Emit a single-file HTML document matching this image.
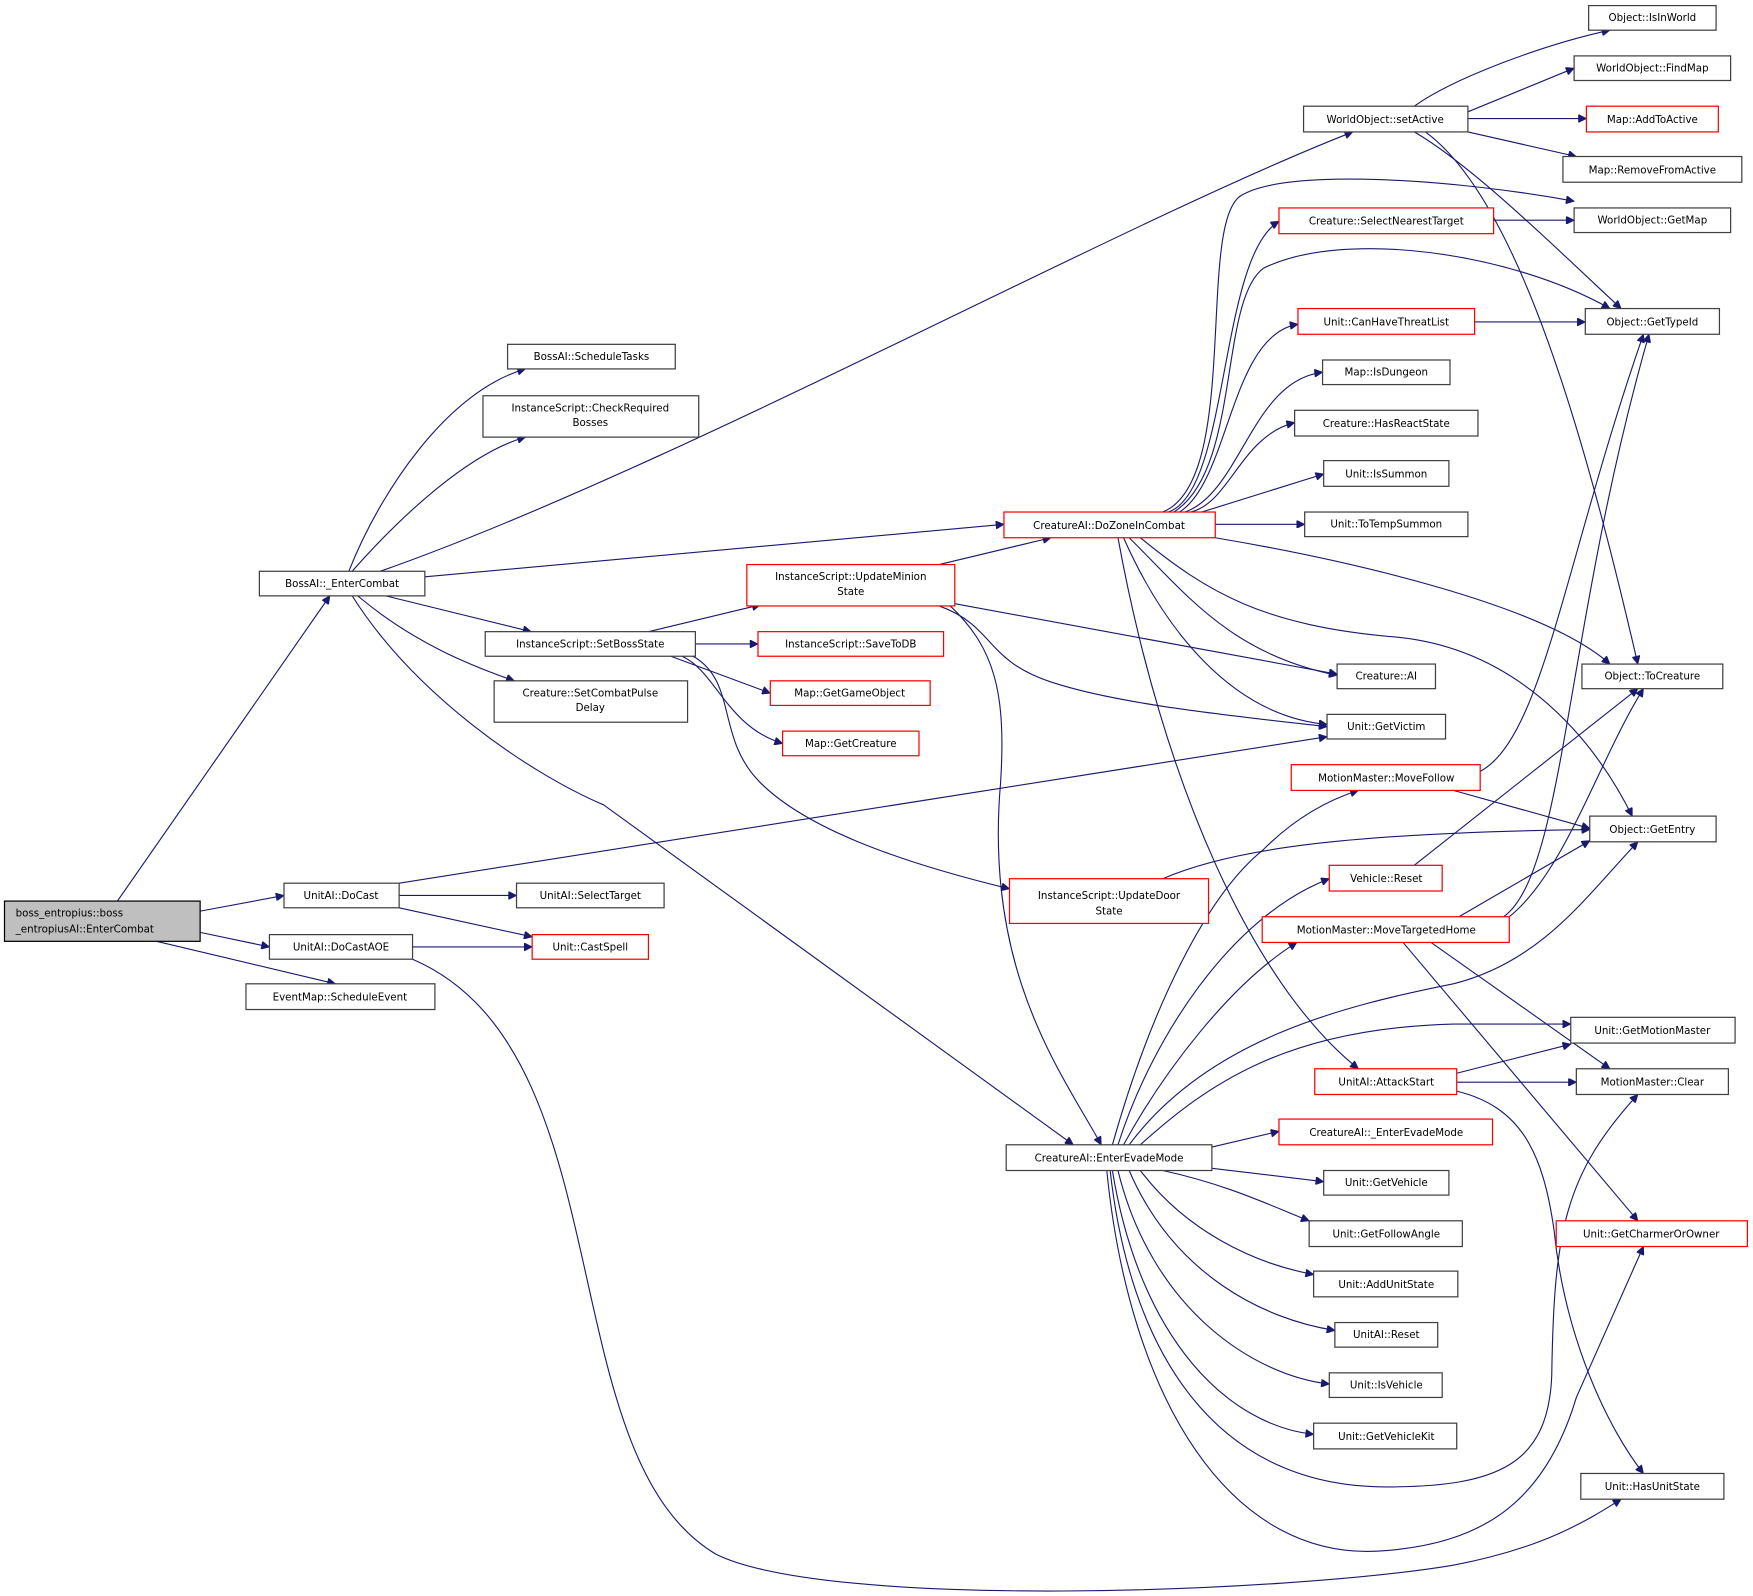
<!DOCTYPE html>
<html><head><meta charset="utf-8"><style>
html,body{margin:0;padding:0;background:#fff;}
svg{display:block;}
text{font-family:"DejaVu Sans","Liberation Sans",sans-serif;font-size:9.2px;fill:#000;}
.n{fill:#fff;stroke:#404040;stroke-width:1.1;}
.r{fill:#fff;stroke:#ff0000;stroke-width:1.1;}
.e{fill:none;stroke:#191970;stroke-width:1;}
</style></head><body>
<svg width="1753" height="1596" viewBox="0 0 1568 1427.6" xmlns="http://www.w3.org/2000/svg">
<defs><marker id="a" viewBox="0 0 10 10" refX="10" refY="5" markerWidth="10" markerHeight="7" markerUnits="userSpaceOnUse" orient="auto"><path d="M0,0 L10,5 L0,10 z" fill="#191970" stroke="#191970"/></marker></defs>
<g class="e" marker-end="url(#a)">
<path d="M105,806 L295,533"/>
<path d="M179,815 L254,801"/>
<path d="M179,834 L241,847"/>
<path d="M140,842 L300,880"/>
<path d="M312,511 C340,440 400,350 470,330"/>
<path d="M315,511 C360,460 420,405 470,391"/>
<path d="M340,511 C600,420 1000,200 1210,118"/>
<path d="M380,516 L898,469"/>
<path d="M345,533 L475,565"/>
<path d="M320,533 C370,575 420,595 460,609"/>
<path d="M315,533 C370,620 470,690 540,720 L960,1024"/>
<path d="M357,790 L1187,659"/>
<path d="M357,801 L462,801"/>
<path d="M357,812 L476,838"/>
<path d="M369,847 L476,847"/>
<path d="M369,858 C560,940 490,1300 640,1390 C740,1440 1150,1425 1300,1400 C1380,1385 1420,1360 1450,1341"/>
<path d="M580,565 L680,541"/>
<path d="M622,576 L678,576"/>
<path d="M600,587 L689,620"/>
<path d="M610,587 C640,600 650,650 700,665"/>
<path d="M620,587 C660,610 640,660 680,700 C720,740 800,770 903,795"/>
<path d="M840,505 L940,481"/>
<path d="M854,540 L1196,603"/>
<path d="M840,542 C890,560 880,590 940,610 C1000,630 1100,640 1187,650"/>
<path d="M850,542 C890,580 900,620 895,700 C880,870 950,960 985,1024"/>
<path d="M1040,786 C1100,760 1200,745 1422,742"/>
<path d="M1045,458 C1100,440 1090,230 1144,198"/>
<path d="M1040,458 C1110,430 1070,200 1110,175 C1150,150 1300,160 1408,180"/>
<path d="M1050,458 C1110,420 1090,270 1130,240 C1200,205 1350,225 1440,276"/>
<path d="M1055,458 C1100,430 1100,300 1161,290"/>
<path d="M1060,458 C1110,440 1120,340 1183,333"/>
<path d="M1065,458 C1100,450 1110,390 1158,378"/>
<path d="M1075,458 L1184,424"/>
<path d="M1087,469 L1167,469"/>
<path d="M1087,481 C1200,500 1380,540 1440,594"/>
<path d="M1020,481 C1080,530 1130,560 1250,570 C1350,580 1420,650 1460,730"/>
<path d="M1010,481 C1060,530 1100,585 1196,604"/>
<path d="M1005,481 C1040,560 1100,640 1187,648"/>
<path d="M1000,481 C1040,700 1120,880 1215,956"/>
<path d="M1265,95 C1300,70 1380,40 1440,27"/>
<path d="M1313,100 L1408,61"/>
<path d="M1313,106 L1419,106"/>
<path d="M1313,118 L1410,140"/>
<path d="M1265,118 C1320,150 1400,230 1450,276"/>
<path d="M1275,118 C1360,180 1420,400 1465,594"/>
<path d="M1336,197 L1408,197"/>
<path d="M1319,288 L1418,288"/>
<path d="M1324,690 C1380,660 1400,500 1470,299"/>
<path d="M1300,707 L1422,741"/>
<path d="M1265,774 L1465,616"/>
<path d="M1305,820 L1422,752"/>
<path d="M1345,820 C1400,780 1400,560 1475,299"/>
<path d="M1350,820 C1400,780 1430,680 1470,616"/>
<path d="M1280,843 L1440,956"/>
<path d="M1255,843 L1465,1092"/>
<path d="M1303,960 L1405,934"/>
<path d="M1303,968 L1410,968"/>
<path d="M1303,976 C1360,990 1380,1030 1390,1100 C1400,1200 1440,1280 1470,1318"/>
<path d="M995,1024 C1030,900 1080,800 1130,760 C1160,730 1190,715 1215,707"/>
<path d="M1000,1024 C1030,930 1100,820 1189,786"/>
<path d="M1005,1024 C1040,960 1100,880 1160,843"/>
<path d="M1010,1024 C1080,930 1200,900 1300,880 C1380,860 1420,800 1465,753"/>
<path d="M1020,1024 C1080,970 1150,920 1300,916 L1405,916"/>
<path d="M1084,1026 L1144,1012"/>
<path d="M1084,1045 L1184,1057"/>
<path d="M1040,1047 C1100,1060 1140,1080 1171,1092"/>
<path d="M1020,1047 C1060,1100 1120,1130 1175,1140"/>
<path d="M1010,1047 C1050,1140 1130,1180 1194,1190"/>
<path d="M1000,1047 C1030,1170 1120,1230 1189,1238"/>
<path d="M995,1047 C1020,1200 1100,1275 1175,1283"/>
<path d="M993,1047 C1010,1200 1080,1330 1240,1330 C1340,1330 1385,1310 1388,1230 C1390,1100 1400,1050 1465,979"/>
<path d="M990,1047 C1010,1250 1100,1400 1240,1387 C1320,1380 1380,1350 1410,1250 L1470,1115"/>
</g>
<g>
<rect x="4" y="806" width="175" height="36" fill="#bfbfbf" stroke="#000" stroke-width="1.1"/>
<text x="14" y="820">boss_entropius::boss</text><text x="14" y="834">_entropiusAI::EnterCombat</text>
</g>
<g text-anchor="middle">
<rect class="n" x="232" y="511" width="148" height="22"/><text x="306" y="525">BossAI::_EnterCombat</text>
<rect class="n" x="254" y="790" width="103" height="22"/><text x="305" y="804">UnitAI::DoCast</text>
<rect class="n" x="241" y="836" width="128" height="22"/><text x="305" y="850">UnitAI::DoCastAOE</text>
<rect class="n" x="220" y="880" width="169" height="23"/><text x="304" y="895">EventMap::ScheduleEvent</text>
<rect class="n" x="454" y="308" width="150" height="22"/><text x="529" y="322">BossAI::ScheduleTasks</text>
<rect class="n" x="432" y="354" width="193" height="37"/><text x="528" y="368">InstanceScript::CheckRequired</text><text x="528" y="381">Bosses</text>
<rect class="n" x="434" y="565" width="188" height="22"/><text x="528" y="579">InstanceScript::SetBossState</text>
<rect class="n" x="442" y="609" width="173" height="37"/><text x="528" y="623">Creature::SetCombatPulse</text><text x="528" y="636">Delay</text>
<rect class="n" x="462" y="790" width="132" height="22"/><text x="528" y="804">UnitAI::SelectTarget</text>
<rect class="r" x="476" y="836" width="104" height="22"/><text x="528" y="850">Unit::CastSpell</text>
<rect class="r" x="668" y="505" width="186" height="37"/><text x="761" y="519">InstanceScript::UpdateMinion</text><text x="761" y="532">State</text>
<rect class="r" x="678" y="565" width="166" height="22"/><text x="761" y="579">InstanceScript::SaveToDB</text>
<rect class="r" x="689" y="609" width="143" height="22"/><text x="760" y="623">Map::GetGameObject</text>
<rect class="r" x="700" y="654" width="122" height="22"/><text x="761" y="668">Map::GetCreature</text>
<rect class="r" x="903" y="786" width="178" height="40"/><text x="992" y="804">InstanceScript::UpdateDoor</text><text x="992" y="818">State</text>
<rect class="r" x="898" y="458" width="189" height="23"/><text x="992" y="473">CreatureAI::DoZoneInCombat</text>
<rect class="n" x="900" y="1024" width="184" height="23"/><text x="992" y="1039">CreatureAI::EnterEvadeMode</text>
<rect class="n" x="1166" y="95" width="147" height="23"/><text x="1239" y="110">WorldObject::setActive</text>
<rect class="r" x="1144" y="186" width="192" height="23"/><text x="1240" y="201">Creature::SelectNearestTarget</text>
<rect class="r" x="1161" y="276" width="158" height="23"/><text x="1240" y="291">Unit::CanHaveThreatList</text>
<rect class="n" x="1183" y="322" width="114" height="22"/><text x="1240" y="336">Map::IsDungeon</text>
<rect class="n" x="1158" y="367" width="164" height="23"/><text x="1240" y="382">Creature::HasReactState</text>
<rect class="n" x="1184" y="412" width="112" height="23"/><text x="1240" y="427">Unit::IsSummon</text>
<rect class="n" x="1167" y="458" width="146" height="22"/><text x="1240" y="472">Unit::ToTempSummon</text>
<rect class="n" x="1196" y="594" width="88" height="22"/><text x="1240" y="608">Creature::AI</text>
<rect class="n" x="1187" y="639" width="106" height="22"/><text x="1240" y="653">Unit::GetVictim</text>
<rect class="r" x="1155" y="684" width="169" height="23"/><text x="1240" y="699">MotionMaster::MoveFollow</text>
<rect class="r" x="1189" y="774" width="101" height="23"/><text x="1240" y="789">Vehicle::Reset</text>
<rect class="r" x="1129" y="820" width="221" height="23"/><text x="1240" y="835">MotionMaster::MoveTargetedHome</text>
<rect class="r" x="1176" y="956" width="127" height="23"/><text x="1240" y="971">UnitAI::AttackStart</text>
<rect class="r" x="1144" y="1001" width="191" height="23"/><text x="1240" y="1016">CreatureAI::_EnterEvadeMode</text>
<rect class="n" x="1184" y="1047" width="112" height="22"/><text x="1240" y="1061">Unit::GetVehicle</text>
<rect class="n" x="1171" y="1092" width="137" height="23"/><text x="1240" y="1107">Unit::GetFollowAngle</text>
<rect class="n" x="1175" y="1137" width="129" height="23"/><text x="1240" y="1152">Unit::AddUnitState</text>
<rect class="n" x="1194" y="1183" width="92" height="22"/><text x="1240" y="1197">UnitAI::Reset</text>
<rect class="n" x="1189" y="1228" width="101" height="22"/><text x="1240" y="1242">Unit::IsVehicle</text>
<rect class="n" x="1175" y="1273" width="128" height="23"/><text x="1240" y="1288">Unit::GetVehicleKit</text>
<rect class="n" x="1421" y="5" width="114" height="22"/><text x="1478" y="19">Object::IsInWorld</text>
<rect class="n" x="1408" y="50" width="140" height="22"/><text x="1478" y="64">WorldObject::FindMap</text>
<rect class="r" x="1419" y="95" width="118" height="23"/><text x="1478" y="110">Map::AddToActive</text>
<rect class="n" x="1398" y="140" width="160" height="23"/><text x="1478" y="155">Map::RemoveFromActive</text>
<rect class="n" x="1408" y="186" width="140" height="22"/><text x="1478" y="200">WorldObject::GetMap</text>
<rect class="n" x="1418" y="276" width="120" height="23"/><text x="1478" y="291">Object::GetTypeId</text>
<rect class="n" x="1415" y="594" width="126" height="22"/><text x="1478" y="608">Object::ToCreature</text>
<rect class="n" x="1422" y="730" width="113" height="23"/><text x="1478" y="745">Object::GetEntry</text>
<rect class="n" x="1405" y="910" width="147" height="23"/><text x="1478" y="925">Unit::GetMotionMaster</text>
<rect class="n" x="1410" y="956" width="136" height="23"/><text x="1478" y="971">MotionMaster::Clear</text>
<rect class="r" x="1392" y="1092" width="171" height="23"/><text x="1477" y="1107">Unit::GetCharmerOrOwner</text>
<rect class="n" x="1414" y="1318" width="128" height="23"/><text x="1478" y="1333">Unit::HasUnitState</text>
</g>
</svg>
</body></html>
